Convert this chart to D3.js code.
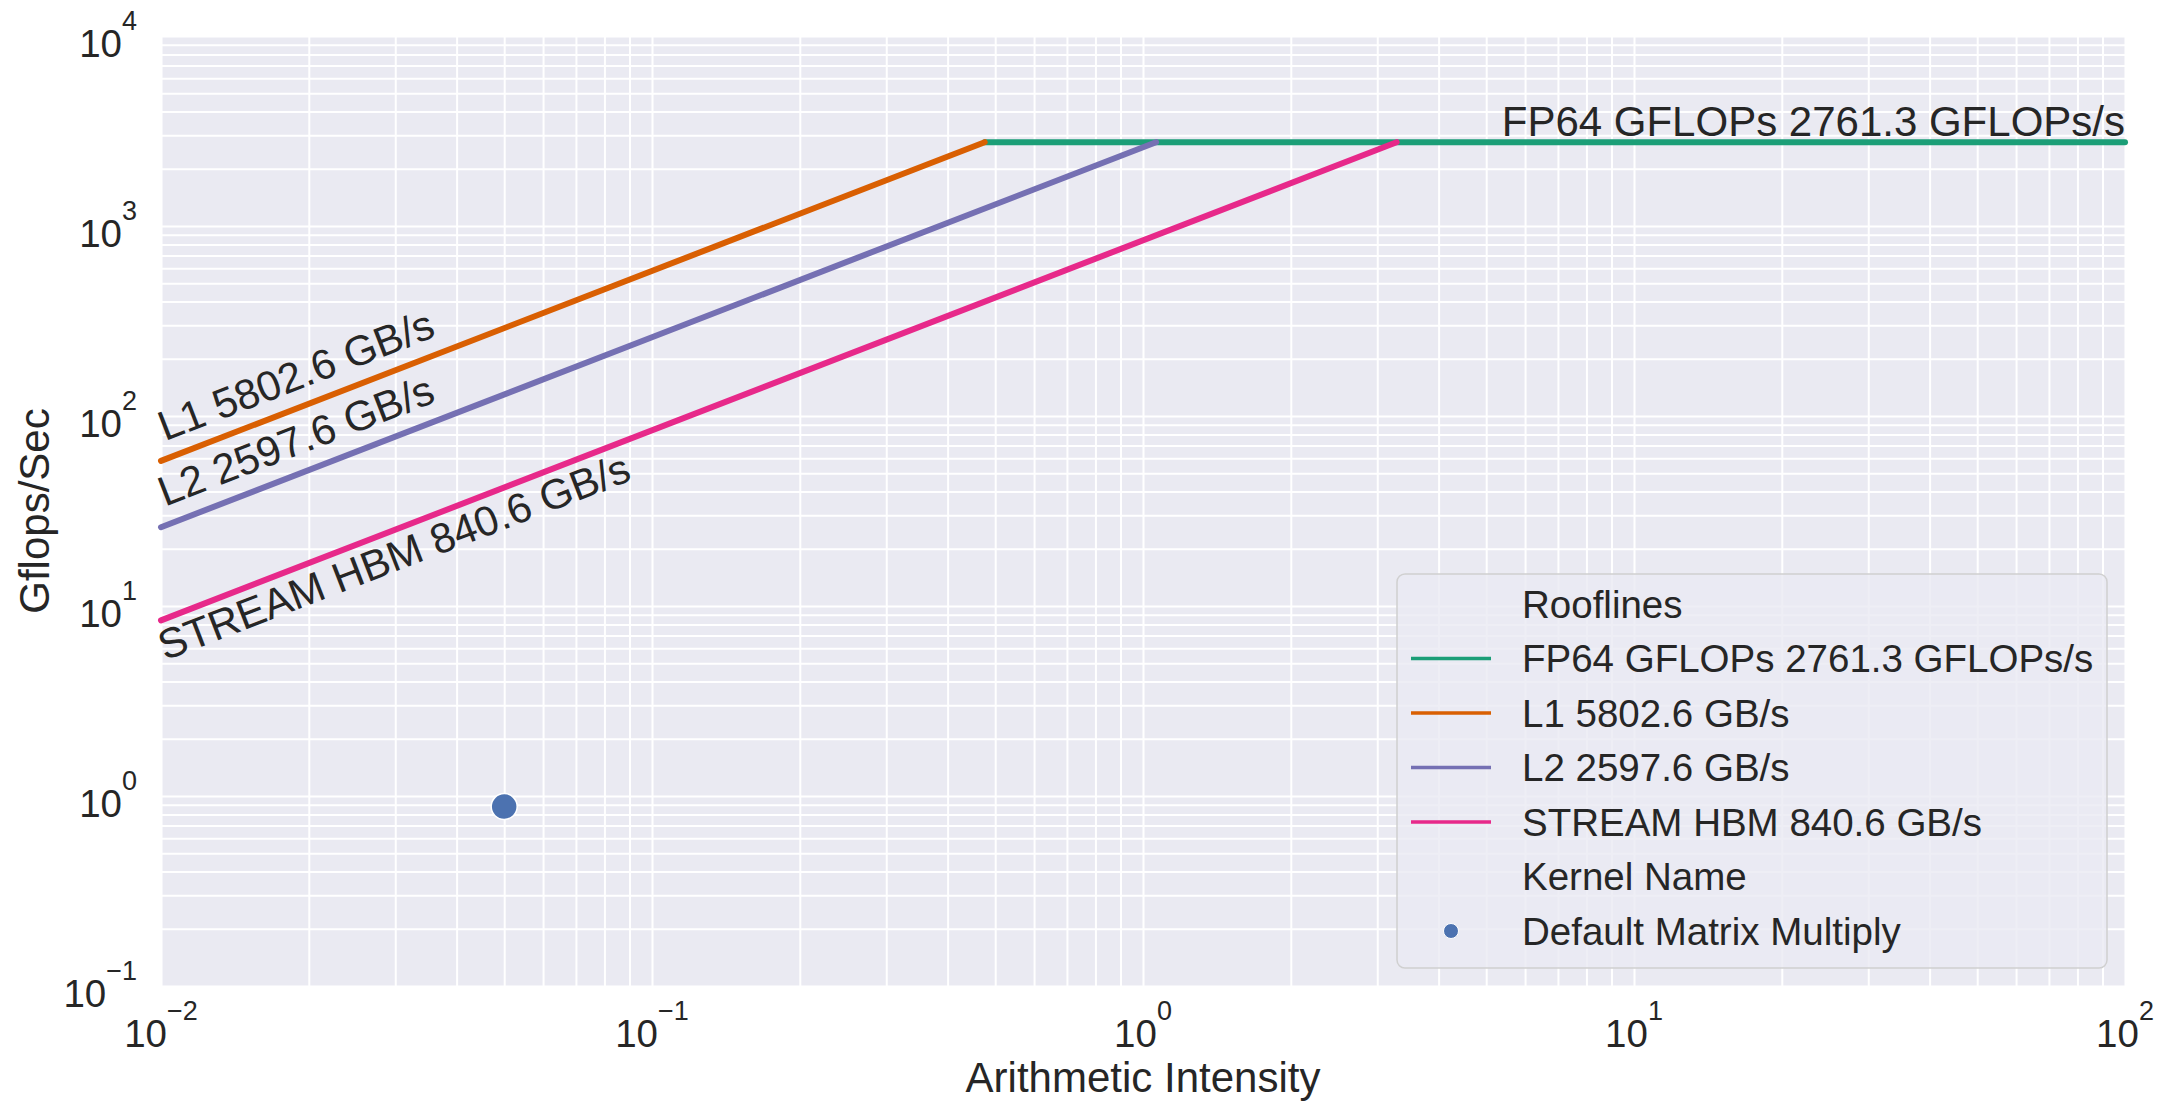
<!DOCTYPE html>
<html>
<head>
<meta charset="utf-8">
<script src="https://cdn.jsdelivr.net/npm/d3@7"></script>
<style>
    html, body { margin: 0; padding: 0; background: #ffffff; }
    svg { display: block; font-family: "Liberation Sans", Arial, sans-serif; }
</style>
</head>
<body>
<svg id="chart" width="2177" height="1102"></svg>
<script>
// roofline data
var rooflineNames = ["FP64 GFLOPs 2761.3 GFLOPs/s", "L1 5802.6 GB/s", "L2 2597.6 GB/s", "STREAM HBM 840.6 GB/s"];
var rooflineColors = ["#1b9e77", "#d95f02", "#7570b3", "#e7298a"];
var peakGflops = 2761.3;
var bandwidthNames = ["L1 5802.6 GB/s", "L2 2597.6 GB/s", "STREAM HBM 840.6 GB/s"];
var bandwidths = [5802.6, 2597.6, 840.6];
var kernelNames = ["Default Matrix Multiply"];
var kernelIntensity = [0.05];
var kernelGflops = [0.88];
var xDomain = [0.01, 100];
var yDomain = [0.1, 10000];
var legendTitles = ["Rooflines", "Kernel Name"];

var margin = { left: 161, right: 2125, top: 36, bottom: 986 };
var textColor = "#262626";
var tickSize = 38.5, supSize = 27, labelSize = 42;

var svg = d3.select("#chart");
var x = d3.scaleLog().domain(xDomain).range([margin.left, margin.right]);
var y = d3.scaleLog().domain(yDomain).range([margin.bottom, margin.top]);
var width = margin.right - margin.left;
var height = margin.bottom - margin.top;

svg.append("rect")
    .attr("x", margin.left).attr("y", margin.top)
    .attr("width", width).attr("height", height)
    .attr("fill", "#eaeaf2");

/**
 * Grid: major and minor lines, all white
 */
var gx = svg.append("g")
    .attr("transform", "translate(0," + margin.bottom + ")")
    .call(d3.axisBottom(x).tickSize(-height).tickFormat(""));
var gy = svg.append("g")
    .attr("transform", "translate(" + margin.left + ",0)")
    .call(d3.axisLeft(y).tickSize(-width).tickFormat(""));
[gx, gy].forEach(function (g) {
    g.select(".domain").remove();
    g.selectAll(".tick line").attr("stroke", "#ffffff").attr("stroke-width", 2);
});

function isDecade(v) {
    var e = Math.log10(v);
    return Math.abs(e - Math.round(e)) < 1e-9;
}
function exponent(v) {
    return String(Math.round(Math.log10(v))).replace("-", "\u2212");
}

// tick labels, 10 with superscript exponent
x.ticks().filter(isDecade).forEach(function (v) {
    var t = svg.append("text")
        .attr("x", x(v)).attr("y", 1047)
        .attr("text-anchor", "middle")
        .attr("fill", textColor)
        .attr("font-size", tickSize);
    t.append("tspan").text("10");
    t.append("tspan").attr("dy", -27).attr("font-size", supSize).text(exponent(v));
});
y.ticks().filter(isDecade).forEach(function (v) {
    var t = svg.append("text")
        .attr("x", 137).attr("y", y(v) + 21)
        .attr("text-anchor", "end")
        .attr("fill", textColor)
        .attr("font-size", tickSize);
    t.append("tspan").text("10");
    t.append("tspan").attr("dy", -27).attr("font-size", supSize).text(exponent(v));
});

svg.append("text")
    .attr("x", (margin.left + margin.right) / 2).attr("y", 1092)
    .attr("text-anchor", "middle")
    .attr("fill", textColor).attr("font-size", labelSize)
    .text("Arithmetic Intensity");
svg.append("text")
    .attr("transform", "translate(49," + ((margin.top + margin.bottom) / 2) + ") rotate(-90)")
    .attr("text-anchor", "middle")
    .attr("fill", textColor).attr("font-size", labelSize)
    .text("Gflops/Sec");

/**
 * Roofline segments: flat compute roof, then one slope per bandwidth
 */
var ridges = bandwidths.map(function (bw) { return peakGflops / bw; });
var line = d3.line()
    .x(function (d) { return x(d[0]); })
    .y(function (d) { return y(d[1]); });

svg.append("path")
    .attr("d", line([[d3.min(ridges), peakGflops], [xDomain[1], peakGflops]]))
    .attr("fill", "none")
    .attr("stroke", rooflineColors[0])
    .attr("stroke-width", 6)
    .attr("stroke-linecap", "round");

bandwidths.forEach(function (bw, i) {
    svg.append("path")
        .attr("d", line([[xDomain[0], xDomain[0] * bw], [ridges[i], peakGflops]]))
        .attr("fill", "none")
        .attr("stroke", rooflineColors[i + 1])
        .attr("stroke-width", 6)
        .attr("stroke-linecap", "round");
});

// labels along the slopes
var angle = Math.atan2(y(xDomain[0]) - y(xDomain[1]), x(xDomain[1]) - x(xDomain[0])) * 180 / Math.PI;
var labelOffsets = [-18, -19, 42];
bandwidths.forEach(function (bw, i) {
    var px = x(xDomain[0]) + 4;
    var py = y(x.invert(px) * bw) + labelOffsets[i];
    svg.append("text")
        .attr("transform", "translate(" + px + "," + py + ") rotate(" + (-angle) + ")")
        .attr("fill", textColor).attr("font-size", labelSize)
        .text(bandwidthNames[i]);
});
svg.append("text")
    .attr("x", margin.right).attr("y", y(peakGflops) - 6)
    .attr("text-anchor", "end")
    .attr("fill", textColor).attr("font-size", labelSize)
    .text(rooflineNames[0]);

// kernel points
kernelNames.forEach(function (name, i) {
    svg.append("circle")
        .attr("cx", x(kernelIntensity[i])).attr("cy", y(kernelGflops[i]))
        .attr("r", 13)
        .attr("fill", "#4c72b0")
        .attr("stroke", "#ffffff").attr("stroke-width", 1.5);
});

/**
 * Legend
 */
var legend = svg.append("g");
legend.append("rect")
    .attr("x", 1397).attr("y", 574)
    .attr("width", 710).attr("height", 394)
    .attr("rx", 8)
    .attr("fill", "#eaeaf2").attr("fill-opacity", 0.8)
    .attr("stroke", "#d0d0d0").attr("stroke-width", 1.5);

var rows = [{ label: legendTitles[0] }];
rooflineNames.forEach(function (n, i) { rows.push({ label: n, color: rooflineColors[i], kind: "line" }); });
rows.push({ label: legendTitles[1] });
kernelNames.forEach(function (n) { rows.push({ label: n, color: "#4c72b0", kind: "dot" }); });

rows.forEach(function (r, i) {
    var cy = 604 + i * 54.5;
    if (r.kind === "line") {
        legend.append("line")
            .attr("x1", 1411).attr("x2", 1491)
            .attr("y1", cy).attr("y2", cy)
            .attr("stroke", r.color).attr("stroke-width", 3.5);
    } else if (r.kind === "dot") {
        legend.append("circle")
            .attr("cx", 1451).attr("cy", cy).attr("r", 7.5)
            .attr("fill", r.color)
            .attr("stroke", "#ffffff").attr("stroke-width", 1);
    }
    legend.append("text")
        .attr("x", 1522).attr("y", cy + 13.5)
        .attr("fill", textColor).attr("font-size", tickSize)
        .text(r.label);
});
</script>
</body>
</html>
